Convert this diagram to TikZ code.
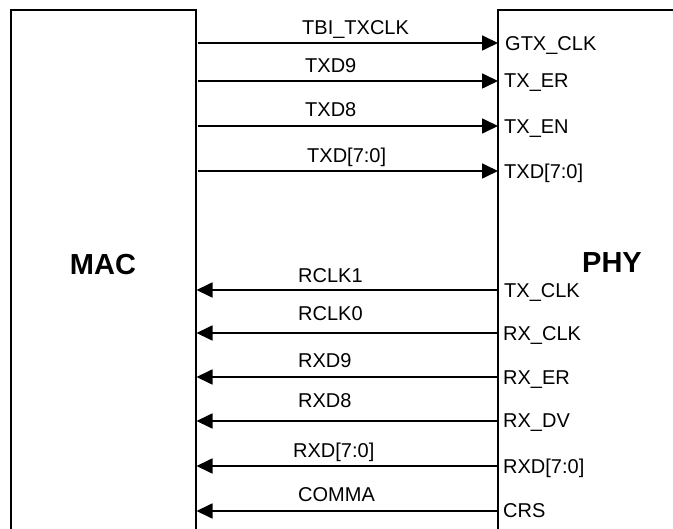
\documentclass[tikz,border=0pt]{standalone}
\usepackage{fontspec}
\setmainfont{Liberation Sans}
\usetikzlibrary{arrows.meta}
\begin{document}
\begin{tikzpicture}[x=1pt,y=-1pt,
  boxline/.style={line width=2pt,line cap=rect},
  sig/.style={line width=1.7pt,-{Triangle[length=16pt,width=15pt]},shorten >=-1pt},
  lbl/.style={font=\fontsize{20}{20}\selectfont,anchor=west,inner sep=0pt,text height=14.3pt,text depth=0pt},
  pin/.style={lbl},
  title/.style={font=\fontsize{29}{29}\selectfont\bfseries,inner sep=0pt,text height=20.8pt,text depth=0pt}]
\useasboundingbox (0,0) rectangle (673,529);
\fill[white] (0,0) rectangle (673,529);
% boxes (extend beyond the picture)
\draw[boxline] (10.5,540) -- (10.5,10) -- (196,10) -- (196,540);
\draw[boxline] (498,540) -- (498,10) -- (690,10);
\node[title] (mac) at (103,264) {MAC};
\node[title] (phy) at (612,262) {PHY};
% end points
\foreach \n/\y in {a/43,b/81,c/126,d/171,e/290,f/333,g/377,h/421,i/466,j/511}{
  \coordinate (m\n) at (197.5,\y);
  \coordinate (p\n) at (497,\y);
}
% outgoing signals
\draw[sig] (ma) -- (pa);
\draw[sig] (mb) -- (pb);
\draw[sig] (mc) -- (pc);
\draw[sig] (md) -- (pd);
% incoming signals
\draw[sig] (pe) -- (me);
\draw[sig] (pf) -- (mf);
\draw[sig] (pg) -- (mg);
\draw[sig] (ph) -- (mh);
\draw[sig] (pi) -- (mi);
\draw[sig] (pj) -- (mj);
% signal names
\node[lbl] (la) at (302,27) {TBI\_TXCLK};
\node[lbl] (lb) at (305,65) {TXD9};
\node[lbl] (lc) at (305,109) {TXD8};
\node[lbl] (ld) at (307,155) {TXD[7:0]};
\node[lbl] (le) at (298,275) {RCLK1};
\node[lbl] (lf) at (298,313) {RCLK0};
\node[lbl] (lg) at (298,360) {RXD9};
\node[lbl] (lh) at (298,400) {RXD8};
\node[lbl] (li) at (293,450) {RXD[7:0]};
\node[lbl] (lj) at (298,494) {COMMA};
% PHY pins
\node[pin] (qa) at (505,43) {GTX\_CLK};
\node[pin] (qb) at (504,80) {TX\_ER};
\node[pin] (qc) at (504,126) {TX\_EN};
\node[pin] (qd) at (504,171) {TXD[7:0]};
\node[pin] (qe) at (504,290) {TX\_CLK};
\node[pin] (qf) at (503,333) {RX\_CLK};
\node[pin] (qg) at (503,377) {RX\_ER};
\node[pin] (qh) at (503,420) {RX\_DV};
\node[pin] (qi) at (503,466) {RXD[7:0]};
\node[pin] (qj) at (503,510) {CRS};
\end{tikzpicture}
\end{document}
